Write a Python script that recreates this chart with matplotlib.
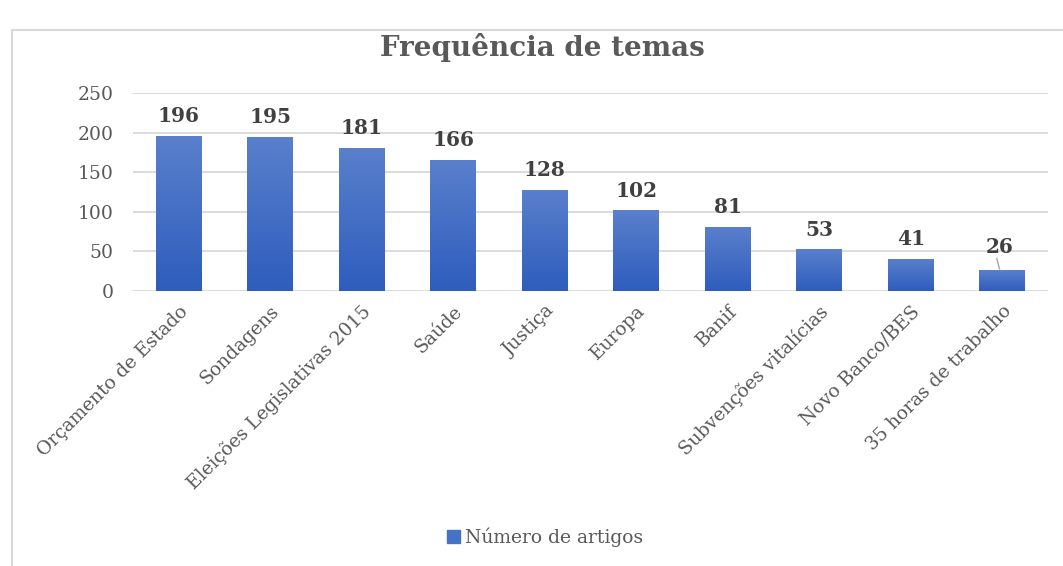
import matplotlib
matplotlib.use("Agg")
import matplotlib.pyplot as plt
import numpy as np
from matplotlib.patches import Rectangle
from matplotlib.colors import LinearSegmentedColormap

categories = ["Orçamento de Estado", "Sondagens", "Eleições Legislativas 2015", "Saúde",
              "Justiça", "Europa", "Banif", "Subvenções vitalícias", "Novo Banco/BES",
              "35 horas de trabalho"]
values = [196, 195, 181, 166, 128, 102, 81, 53, 41, 26]
yticks = [0, 50, 100, 150, 200, 250]
title = "Frequência de temas"
series_name = "Número de artigos"

W, H = 1063, 566
fig = plt.figure(figsize=(W / 100, H / 100), dpi=100)
fig.patch.set_facecolor("white")

# outer chart border
fig.add_artist(Rectangle((12 / W, -0.01), 1.2, 1 - 30 / H + 0.01, transform=fig.transFigure,
                         fill=False, edgecolor="#d9d9d9", linewidth=1.5))

ax = fig.add_axes([133 / W, 1 - 291 / H, (1048 - 133) / W, (291 - 93) / H])
x = np.arange(len(categories))
bars = ax.bar(x, values, width=0.5, color="#4472c4", zorder=2, label=series_name)

cmap = LinearSegmentedColormap.from_list("g", ["#2e5dbd", "#5a80cc"])
grad = np.linspace(0, 1, 256).reshape(-1, 1)
for b in bars:
    bx, by = b.get_x(), b.get_y()
    bw, bh = b.get_width(), b.get_height()
    im = ax.imshow(grad, cmap=cmap, origin="lower", aspect="auto",
                   extent=(bx, bx + bw, by, by + bh), zorder=3)
    im.set_clip_path(b)

ax.set_xlim(-0.5, len(categories) - 0.5)
ax.set_ylim(0, 250)
ax.set_yticks(yticks)
ax.yaxis.grid(True, color="#d9d9d9", linewidth=1.3, zorder=0)
ax.set_axisbelow(True)
for s in ax.spines.values():
    s.set_visible(False)
ax.tick_params(axis="both", length=0, colors="#595959")
ax.set_yticklabels([str(v) for v in yticks], fontsize=13.5, family="DejaVu Serif", color="#595959")
ax.tick_params(axis="y", pad=14)
ax.set_xticks(x)
ax.set_xticklabels(categories, rotation=45, ha="right", va="top", rotation_mode="anchor",
                   fontsize=13.5, family="DejaVu Serif", color="#595959")
ax.tick_params(axis="x", pad=8)

for i, v in enumerate(values):
    if i == len(values) - 1:
        ax.text(i - 0.03, v + 17, str(v), ha="center", va="bottom", fontsize=14.5,
                fontweight="bold", family="DejaVu Serif", color="#404040")
        ax.plot([i - 0.06, i - 0.03], [v + 15, v + 2], color="#a6a6a6", lw=1, zorder=4)
    else:
        ax.text(i, v + 12, str(v), ha="center", va="bottom", fontsize=14.5,
                fontweight="bold", family="DejaVu Serif", color="#404040")

fig.text(542 / W, 1 - 47 / H, title, ha="center", va="center", fontsize=20,
         fontweight="bold", family="DejaVu Serif", color="#595959")

leg = fig.legend(handles=[Rectangle((0, 0), 1, 1, color="#4472c4")], labels=[series_name],
                 loc="center", bbox_to_anchor=(545 / W, 1 - 537 / H), frameon=False,
                 prop={"family": "DejaVu Serif", "size": 13.5}, handlelength=0.7,
                 handleheight=0.7, handletextpad=0.3)
for t in leg.get_texts():
    t.set_color("#595959")

fig.savefig("out.png", dpi=100, facecolor="white")
